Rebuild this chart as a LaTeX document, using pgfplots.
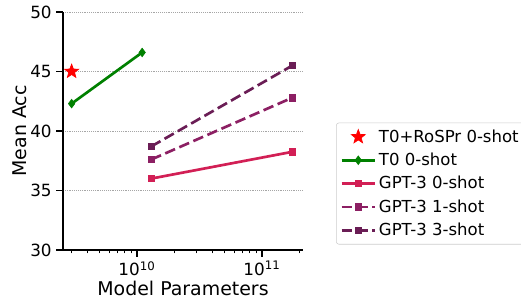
\documentclass[border=0pt]{standalone}
\usepackage{fontspec}
\setmainfont{DejaVu Sans}
\usepackage{pgfplots}
\pgfplotsset{compat=1.18}
\definecolor{tgreen}{HTML}{008000}
\definecolor{g0}{HTML}{D21F55}
\definecolor{g1}{HTML}{8C1F63}
\definecolor{g3}{HTML}{6A1D55}
\pgfdeclareplotmark{fstar}{%
  \pgfpathmoveto{\pgfqpointpolar{90}{\pgfplotmarksize}}%
  \pgfpathlineto{\pgfqpointpolar{126}{0.42\pgfplotmarksize}}%
  \pgfpathlineto{\pgfqpointpolar{162}{\pgfplotmarksize}}%
  \pgfpathlineto{\pgfqpointpolar{198}{0.42\pgfplotmarksize}}%
  \pgfpathlineto{\pgfqpointpolar{234}{\pgfplotmarksize}}%
  \pgfpathlineto{\pgfqpointpolar{270}{0.42\pgfplotmarksize}}%
  \pgfpathlineto{\pgfqpointpolar{306}{\pgfplotmarksize}}%
  \pgfpathlineto{\pgfqpointpolar{342}{0.42\pgfplotmarksize}}%
  \pgfpathlineto{\pgfqpointpolar{18}{\pgfplotmarksize}}%
  \pgfpathlineto{\pgfqpointpolar{54}{0.42\pgfplotmarksize}}%
  \pgfpathclose
  \pgfusepathqfillstroke}
\begin{document}
\begin{tikzpicture}
\begin{axis}[
  scale only axis, width=180pt, height=178.5pt,
  xmode=log, log basis x=10,
  xmin=2.56e9, xmax=2.13e11,
  ymin=30, ymax=50,
  ytick={30,35,40,45,50},
  xtick={1e10,1e11},
  xticklabels={10\textsuperscript{10},10\textsuperscript{11}},
  minor xtick={3e9,4e9,5e9,6e9,7e9,8e9,9e9,2e10,3e10,4e10,5e10,6e10,7e10,8e10,9e10,2e11},
  axis x line*=bottom, axis y line*=left,
  axis line style={line width=0.8pt, -},
  tick align=outside,
  major tick length=5pt, minor tick length=2.6pt,
  tick style={line width=0.8pt, black},
  minor tick style={line width=0.6pt, black},
  ymajorgrids, major grid style={densely dotted, gray!70, line width=0.6pt},
  /pgf/number format/assume math mode=true,
  ticklabel style={font=\fontsize{12.6}{14}\selectfont},
  xlabel={Model Parameters}, ylabel={Mean Acc},
  label style={font=\fontsize{14.2}{16}\selectfont},
  xlabel style={yshift=3pt},
  ylabel style={yshift=-4pt},
  legend style={at={(1.1375,0.279)}, anchor=west, draw=gray!40, rounded corners=2pt,
    font=\fontsize{12.4}{14}\selectfont, row sep=2.6pt, inner sep=3pt},
  legend cell align=left,
  legend image code/.code={\draw[#1] (0pt,0pt) -- (25pt,0pt); \draw[#1, solid] plot coordinates {(12.5pt,0pt)};},
]
\addplot[only marks, mark=fstar, red, mark size=5.5pt, mark options={fill=red, line width=0.5pt},
  legend image code/.code={\draw[only marks, mark=fstar, red, mark size=5.5pt, mark options={fill=red, line width=0.5pt}] plot coordinates {(12.5pt,0pt)};}]
  coordinates {(3.0e9,45.0)};
\addlegendentry{T0+RoSPr 0-shot}
\addplot[tgreen, line width=2pt, mark=diamond*, mark size=3.2pt, mark options={solid, fill=tgreen, line width=0.5pt}]
  coordinates {(3.0e9,42.3) (11e9,46.6)};
\addlegendentry{T0 0-shot}
\addplot[g0, line width=2pt, mark=square*, mark size=2.4pt, mark options={solid, fill=g0, line width=0.5pt}]
  coordinates {(13e9,36.0) (175e9,38.25)};
\addlegendentry{GPT-3 0-shot}
\addplot[g1, line width=2pt, dash pattern=on 8pt off 3.5pt, mark=square*, mark size=2.4pt, mark options={solid, fill=g1, line width=0.5pt}]
  coordinates {(13e9,37.6) (175e9,42.8)};
\addlegendentry{GPT-3 1-shot}
\addplot[g3, line width=2pt, dash pattern=on 8pt off 3.5pt, mark=square*, mark size=2.4pt, mark options={solid, fill=g3, line width=0.5pt}]
  coordinates {(13e9,38.7) (175e9,45.5)};
\addlegendentry{GPT-3 3-shot}
\end{axis}
\pgfresetboundingbox
\useasboundingbox (-47.25pt,-39pt) rectangle (343.5pt,187.5pt);
\end{tikzpicture}
\end{document}
